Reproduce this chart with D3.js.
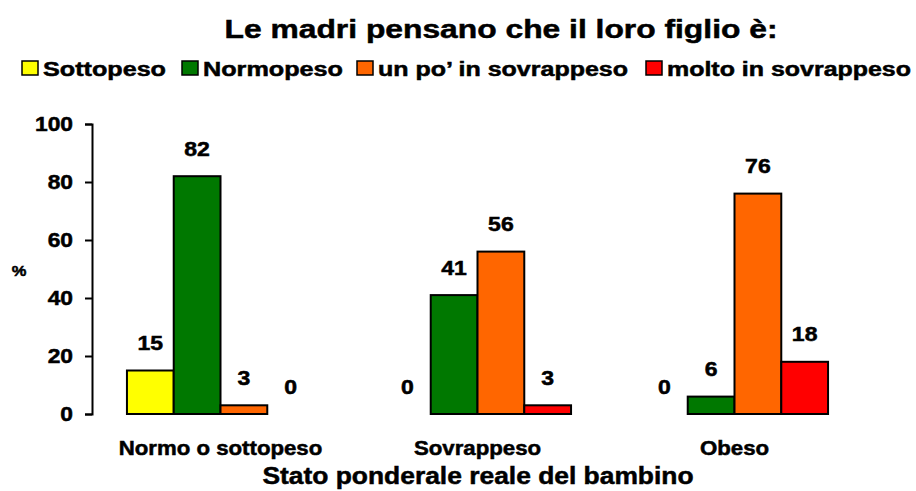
<!DOCTYPE html>
<html>
<head>
<meta charset="utf-8">
<script src="https://d3js.org/d3.v7.min.js"></script>
<style>
  body { margin: 0; background: #fff; }
  text { font-family: Arial, "Liberation Sans", sans-serif; font-weight: bold; fill: #000;
         stroke: #000; stroke-width: 0.5px; }
</style>
</head>
<body>
<svg id="chart" width="916" height="491"></svg>
<script>
const groups = ['Normo o sottopeso', 'Sovrappeso', 'Obeso'];
const series = ['Sottopeso', 'Normopeso', 'un po\u2019 in sovrappeso', 'molto in sovrappeso'];
const colors = ['#ffff00', '#007800', '#ff6600', '#ff0000'];
// values per group, in series order
const sottopeso = [15, 0, 0];
const normopeso = [82, 41, 6];
const unPo = [3, 56, 76];
const molto = [0, 3, 18];
const yTicks = [0, 20, 40, 60, 80, 100];

const values = [sottopeso, normopeso, unPo, molto];

const svg = d3.select('#chart');

const x0 = d3.scaleBand().domain(groups).range([92, 863])
    .paddingInner(0.272).paddingOuter(0.136);
const x1 = d3.scaleBand().domain(series).range([0, x0.bandwidth()]);
const y = d3.scaleLinear().domain([0, 100]).range([414, 124]);

// the original text is a bit wider than Arial, so stretch it sideways
function label(parent, x, y, size, sx, anchor, str){
    return parent.append('text')
        .attr('transform', `translate(${x},${y}) scale(${sx},1)`)
        .attr('text-anchor', anchor)
        .attr('font-size', size)
        .text(str);
}

// title
label(svg, 501, 38, 26.5, 1.2, 'middle', 'Le madri pensano che il loro figlio è:');

// legend
const legendX = [22, 182, 357, 646];
const legendW = [123, 140, 250, 244];
const leg = svg.append('g');
series.forEach(function(s, i){
    leg.append('rect')
        .attr('x', legendX[i]).attr('y', 61)
        .attr('width', 16).attr('height', 14)
        .attr('fill', colors[i])
        .attr('stroke', '#000').attr('stroke-width', 1.5);
    leg.append('text')
        .attr('x', legendX[i] + 21).attr('y', 75.5)
        .attr('font-size', 20)
        .attr('textLength', legendW[i])
        .attr('lengthAdjust', 'spacingAndGlyphs')
        .text(s);
});

// y axis
const yAxis = svg.append('g')
    .attr('transform', 'translate(92,0)')
    .call(d3.axisLeft(y).tickValues(yTicks).tickSize(7).tickFormat(''));
yAxis.select('.domain').attr('stroke', '#000').attr('stroke-width', 2);
yAxis.selectAll('.tick line').attr('stroke', '#000').attr('stroke-width', 2);
yTicks.forEach(function(t){
    label(svg, 73, y(t) + 7, 20, 1.14, 'end', t);
});

label(svg, 19, 276, 15, 1.1, 'middle', '%');

// bars
const g = svg.append('g');
groups.forEach(function(grp, gi){
    series.forEach(function(s, si){
        const v = values[si][gi];
        const bx = x0(grp) + x1(s);
        if (v > 0) {
            g.append('rect')
                .attr('x', bx).attr('y', y(v))
                .attr('width', x1.bandwidth()).attr('height', y(0) - y(v))
                .attr('fill', colors[si])
                .attr('stroke', '#000').attr('stroke-width', 2);
        }
        label(g, bx + x1.bandwidth() / 2, y(v) - 20.5, 19.5, 1.18, 'middle', v);
    });
});

// category labels
groups.forEach(function(grp){
    label(svg, x0(grp) + x0.bandwidth() / 2, 455, 19.5, 1.14, 'middle', grp);
});

label(svg, 478, 484, 24, 1.1, 'middle', 'Stato ponderale reale del bambino');
</script>
</body>
</html>
